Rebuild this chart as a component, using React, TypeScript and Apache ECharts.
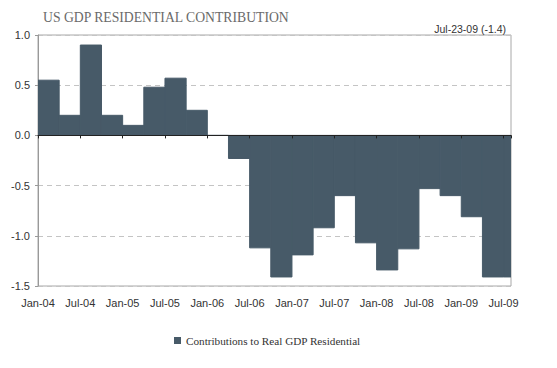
import React, { useEffect, useRef } from "react";
import * as echarts from "echarts";

const TITLE = "US GDP RESIDENTIAL CONTRIBUTION";
const NOTE = "Jul-23-09 (-1.4)";
const SERIES_NAME = "Contributions to Real GDP Residential";
const tickLabels = ["Jan-04", "Jul-04", "Jan-05", "Jul-05", "Jan-06", "Jul-06", "Jan-07", "Jul-07", "Jan-08", "Jul-08", "Jan-09", "Jul-09"];
// quarterly values starting Q1 2004
const values = [0.55, 0.2, 0.9, 0.2, 0.1, 0.48, 0.57, 0.25, 0.0, -0.23, -1.12, -1.41, -1.19, -0.92, -0.6, -1.07, -1.34, -1.13, -0.53, -0.6, -0.81, -1.41, -1.41];

const BAR_COLOR = "#475a68";
const SANS = "'Liberation Sans', Arial, sans-serif";
const SERIF = "'Liberation Serif', 'Times New Roman', serif";

export default function App() {
  const ref = useRef<HTMLDivElement>(null);
  useEffect(() => {
    document.body.style.margin = "0";
    if (!ref.current) return;
    const chart = echarts.init(ref.current, undefined, { renderer: "svg" });
    const data = values.map((v, i) => [i, v]);
    const xMax = 22.35;
    chart.setOption({
      animation: false,
      backgroundColor: "#ffffff",
      title: [
        {
          text: TITLE,
          left: 38,
          top: 5,
          textStyle: { fontFamily: SERIF, fontSize: 13.7, fontWeight: "normal", color: "#6a6a6a" },
        },
        {
          text: NOTE,
          right: 46,
          top: 18,
          textStyle: { fontFamily: SANS, fontSize: 10.5, fontWeight: "normal", color: "#333" },
        },
      ],
      legend: {
        left: 169,
        top: 330,
        itemWidth: 7,
        itemHeight: 7,
        icon: "rect",
        data: [SERIES_NAME],
        textStyle: { fontFamily: SERIF, fontSize: 11.2, color: "#333" },
      },
      grid: {
        left: 38,
        right: 46,
        top: 35,
        bottom: 82,
        show: true,
        borderColor: "#a8a8a8",
        borderWidth: 1,
      },
      xAxis: [
        {
          type: "value",
          min: 0,
          max: xMax,
          interval: 2,
          position: "bottom",
          z: 5,
          axisLine: { show: true, onZero: true, lineStyle: { color: "#222", width: 1 } },
          axisTick: { show: true, length: 3, lineStyle: { color: "#222" } },
          axisLabel: { show: false },
          splitLine: { show: false },
        },
        {
          type: "value",
          min: 0,
          max: xMax,
          interval: 2,
          position: "bottom",
          axisLine: { show: false, onZero: false },
          axisTick: { show: false },
          splitLine: { show: false },
          axisLabel: {
            margin: 11,
            fontFamily: SANS,
            fontSize: 11,
            color: "#333",
            formatter: (v: number) => (Number.isInteger(v) && v % 2 === 0 ? tickLabels[v / 2] ?? "" : ""),
          },
        },
      ],
      yAxis: {
        type: "value",
        min: -1.5,
        max: 1,
        interval: 0.5,
        axisLine: { show: true, lineStyle: { color: "#999" } },
        axisTick: { show: true, length: 3, lineStyle: { color: "#999" } },
        axisLabel: {
          margin: 8,
          fontFamily: SANS,
          fontSize: 11,
          color: "#333",
          formatter: (v: number) => v.toFixed(1),
        },
        splitLine: { show: true, lineStyle: { color: "#c4c4c4", type: [5, 4] } },
      },
      series: [
        {
          name: SERIES_NAME,
          type: "custom",
          xAxisIndex: 0,
          yAxisIndex: 0,
          itemStyle: { color: BAR_COLOR },
          encode: { x: 0, y: 1 },
          data,
          clip: true,
          renderItem: (params: any, api: any) => {
            const i = api.value(0);
            const v = api.value(1);
            const p0 = api.coord([i, 0]);
            const p1 = api.coord([i + 1, v]);
            const shape = echarts.graphic.clipRectByRect(
              {
                x: p0[0],
                y: Math.min(p0[1], p1[1]),
                width: p1[0] - p0[0],
                height: Math.abs(p1[1] - p0[1]),
              },
              {
                x: params.coordSys.x,
                y: params.coordSys.y,
                width: params.coordSys.width,
                height: params.coordSys.height,
              }
            );
            if (!shape) return null;
            return {
              type: "rect",
              shape,
              style: { fill: BAR_COLOR, stroke: BAR_COLOR, lineWidth: 1 },
            };
          },
        },
      ],
    });
    return () => chart.dispose();
  }, []);
  return <div ref={ref} style={{ width: 557, height: 368 }} />;
}
